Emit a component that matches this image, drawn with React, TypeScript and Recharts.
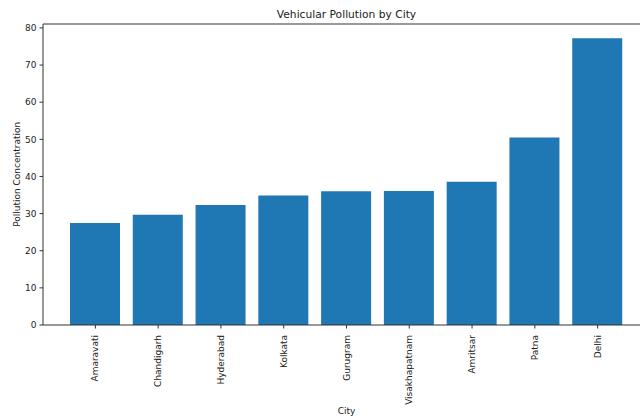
import React from "react";
import { Bar, BarChart, Label, ReferenceLine, XAxis, YAxis } from "recharts";

// Values.
const cities = [
  "Amaravati",
  "Chandigarh",
  "Hyderabad",
  "Kolkata",
  "Gurugram",
  "Visakhapatnam",
  "Amritsar",
  "Patna",
  "Delhi",
];
const pollution = [27.5, 29.7, 32.3, 34.9, 36.0, 36.1, 38.6, 50.5, 77.2];
const yTicks = [0, 10, 20, 30, 40, 50, 60, 70, 80];
const yMax = 81.06;

const data = cities.map((city, i) => ({ city, value: pollution[i] }));

const FONT = "DejaVu Sans, sans-serif";
const INK = "#222";
const AXIS = "#333";

function CityTick({ x, y, payload }: { x?: number; y?: number; payload?: { value: string } }) {
  return (
    <text
      transform={`translate(${x},${(y ?? 0) + 4.5}) rotate(-90)`}
      textAnchor="end"
      dominantBaseline="central"
      fontFamily={FONT}
      fontSize={9}
      fill={INK}
    >
      {payload?.value}
    </text>
  );
}

export default function App() {
  return (
    <div
      style={{
        position: "absolute",
        left: 0,
        top: 0,
        width: 640,
        height: 420,
        overflow: "hidden",
        background: "#fff",
      }}
    >
      <div
        style={{
          position: "absolute",
          left: 0,
          width: 693,
          top: 8,
          textAlign: "center",
          fontFamily: FONT,
          fontSize: 10.7,
          color: INK,
        }}
      >
        Vehicular Pollution by City
      </div>
      <BarChart
        width={660}
        height={420}
        data={data}
        margin={{ top: 24, right: 10, bottom: 0, left: 1 }}
      >
        <XAxis
          dataKey="city"
          type="category"
          height={95}
          padding={{ left: 21, right: 21 }}
          interval={0}
          stroke={AXIS}
          tickSize={3.5}
          tick={<CityTick />}
        >
          <Label
            content={() => (
              <text x={346.5} y={411} textAnchor="middle" dominantBaseline="central" fontFamily={FONT} fontSize={9} fill={INK}>
                City
              </text>
            )}
          />
        </XAxis>
        <YAxis
          type="number"
          domain={[0, yMax]}
          ticks={yTicks}
          width={42}
          stroke={AXIS}
          tickSize={3.5}
          tickMargin={3}
          tick={{ fontFamily: FONT, fontSize: 9, fill: INK }}
          allowDataOverflow
        >
          <Label
            content={() => (
              <text
                transform="translate(17,174.3) rotate(-90)"
                textAnchor="middle"
                dominantBaseline="central"
                fontFamily={FONT}
                fontSize={9}
                fill={INK}
              >
                Pollution Concentration
              </text>
            )}
          />
        </YAxis>
        <ReferenceLine y={yMax} stroke={AXIS} />
        <Bar dataKey="value" fill="#1f77b4" barSize={50} isAnimationActive={false} />
      </BarChart>
    </div>
  );
}
